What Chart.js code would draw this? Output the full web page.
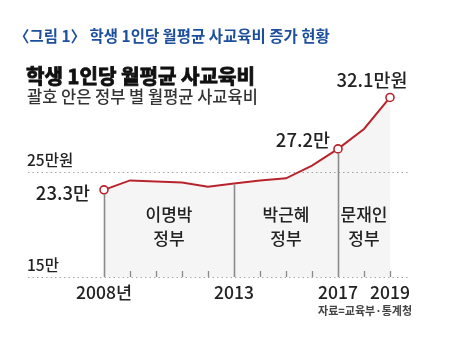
<!DOCTYPE html>
<html>
<head>
<meta charset="utf-8">
<script src="https://cdn.jsdelivr.net/npm/chart.js@4/dist/chart.umd.min.js"></script>
<style>
  html, body { margin: 0; padding: 0; background: #fff; }
  #wrap { width: 474px; height: 339px; position: relative; }
  canvas { display: block; }
</style>
</head>
<body>
<div id="wrap"><canvas id="c" width="474" height="339"></canvas></div>
<script>
// ---- data ----
const years = [2008, 2009, 2010, 2011, 2012, 2013, 2014, 2015, 2016, 2017, 2018, 2019];
const costs = [23.3, 24.2, 24.1, 24.0, 23.6, 23.9, 24.2, 24.4, 25.6, 27.2, 29.1, 32.1];
const markedYears = [2008, 2017, 2019];
const markedLabels = ['23.3만', '27.2만', '32.1만원'];
const govDividerYears = [2008, 2013, 2017];
const govNames = [['이명박', '정부'], ['박근혜', '정부'], ['문재인', '정부']];
const govSpans = [[2008, 2013], [2013, 2017], [2017, 2019]];
const xTickYears = [2008, 2013, 2017, 2019];
const xTickLabels = ['2008년', '2013', '2017', '2019'];
const yRefValues = [15, 25];
const yRefLabels = ['15만', '25만원'];
const figTitle = '〈그림 1〉 학생 1인당 월평균 사교육비 증가 현황';
const chartTitle = '학생 1인당 월평균 사교육비';
const chartSubtitle = '괄호 안은 정부 별 월평균 사교육비';
const sourceText = '자료=교육부·통계청';

const FONT = '"Noto Sans CJK KR", "Noto Sans", sans-serif';
const RED = '#b8242b';

function drawText(ctx, str, x, y, o) {
  let size = o.size || 14;
  const weight = o.weight || 'normal';
  ctx.font = weight + ' ' + size + 'px ' + FONT;
  if (o.width) {
    const w = ctx.measureText(str).width;
    size = size * o.width / w;
    ctx.font = weight + ' ' + size + 'px ' + FONT;
  }
  ctx.fillStyle = o.color || '#222';
  ctx.textAlign = o.align || 'left';
  ctx.textBaseline = 'middle';
  ctx.fillText(str, x, y);
  if (o.stroke) {
    ctx.strokeStyle = o.color || '#222';
    ctx.lineWidth = o.stroke;
    ctx.strokeText(str, x, y);
  }
}

const decor = {
  id: 'decor',
  beforeDraw(chart) {
    const ctx = chart.ctx;
    ctx.save();
    ctx.fillStyle = '#fff';
    ctx.fillRect(0, 0, chart.width, chart.height);
    ctx.restore();
  },
  beforeDatasetsDraw(chart) {
    const ctx = chart.ctx, ys = chart.scales.y, a = chart.chartArea;
    ctx.save();
    ctx.strokeStyle = '#a8a8a8';
    ctx.lineWidth = 1.2;
    ctx.setLineDash([1.5, 3]);
    yRefValues.forEach(v => {
      const y = Math.round(ys.getPixelForValue(v)) + 0.5;
      ctx.beginPath(); ctx.moveTo(a.left, y); ctx.lineTo(a.right, y); ctx.stroke();
    });
    ctx.restore();
  },
  afterDatasetsDraw(chart) {
    const ctx = chart.ctx, xs = chart.scales.x, ys = chart.scales.y;
    const base = ys.getPixelForValue(15);
    ctx.save();
    ctx.strokeStyle = '#8a8a8a';
    ctx.lineWidth = 1.3;
    years.forEach(yr => {
      if (govDividerYears.includes(yr)) return;
      const x = Math.round(xs.getPixelForValue(yr)) + 0.5;
      ctx.beginPath(); ctx.moveTo(x, base); ctx.lineTo(x, base - 6); ctx.stroke();
    });
    ctx.lineWidth = 1.6;
    govDividerYears.forEach(yr => {
      const i = years.indexOf(yr);
      const x = Math.round(xs.getPixelForValue(yr)) + 0.5;
      const top = ys.getPixelForValue(costs[i]) + (markedYears.includes(yr) ? 4.5 : 1);
      ctx.beginPath(); ctx.moveTo(x, top); ctx.lineTo(x, base); ctx.stroke();
    });
    ctx.restore();

    ctx.save();
    govSpans.forEach((s, i) => {
      const cx = xs.getPixelForValue((s[0] + s[1]) / 2);
      drawText(ctx, govNames[i][0], cx, 215, { size: 17, weight: '500', color: '#222', align: 'center' });
      drawText(ctx, govNames[i][1], cx, 239, { size: 17, weight: '500', color: '#222', align: 'center' });
    });

    yRefValues.forEach((v, i) => {
      const y = ys.getPixelForValue(v) - 12;
      drawText(ctx, yRefLabels[i], 27, y, { size: 15.5, weight: '500', color: '#222', align: 'left' });
    });

    xTickYears.forEach((yr, i) => {
      const x = xs.getPixelForValue(yr);
      drawText(ctx, xTickLabels[i], x, base + 15, { size: 17.5, weight: '500', color: '#222', align: 'center' });
    });

    markedYears.forEach((yr, i) => {
      const idx = years.indexOf(yr);
      const px = xs.getPixelForValue(yr), py = ys.getPixelForValue(costs[idx]);
      const o = { size: 18.5, weight: '500', color: '#222' };
      if (i === 0) drawText(ctx, markedLabels[i], px - 14, py + 3, Object.assign(o, { align: 'right' }));
      else if (i === 1) drawText(ctx, markedLabels[i], px - 8, py - 9, Object.assign(o, { align: 'right' }));
      else drawText(ctx, markedLabels[i], px - 18, py - 17, Object.assign(o, { align: 'center' }));
    });

    drawText(ctx, figTitle, 14, 36, { size: 16, weight: 'bold', color: '#1d4f9c', width: 316 });
    drawText(ctx, chartTitle, 26, 76, { size: 20, weight: 'bold', color: '#111', width: 229, stroke: 0.9 });
    drawText(ctx, chartSubtitle, 27, 97, { size: 15, weight: '500', color: '#333', width: 231 });
    drawText(ctx, sourceText, 412, 311, { size: 11, weight: 'bold', color: '#444', align: 'right', width: 94 });
    ctx.restore();
  }
};

const pointRadii = years.map(y => markedYears.includes(y) ? 4 : 0);

new Chart(document.getElementById('c'), {
  type: 'line',
  data: {
    datasets: [{
      data: years.map((y, i) => ({ x: y, y: costs[i] })),
      borderColor: RED,
      borderWidth: 2,
      tension: 0,
      fill: 'start',
      backgroundColor: 'rgba(0,0,0,0.04)',
      pointRadius: pointRadii,
      pointHoverRadius: pointRadii,
      pointBackgroundColor: '#fff',
      pointBorderColor: RED,
      pointBorderWidth: 1.6
    }]
  },
  options: {
    responsive: false,
    animation: false,
    events: [],
    layout: { padding: { left: 28, right: 64, top: 60, bottom: 62 } },
    plugins: { legend: { display: false }, tooltip: { enabled: false }, title: { display: false } },
    scales: {
      x: { type: 'linear', display: false, min: 2008 - 76 / 26, max: 2008 + 306 / 26 },
      y: { type: 'linear', display: false, min: 15, max: 15 + 217 / 10.5 }
    }
  },
  plugins: [decor]
});
</script>
</body>
</html>
